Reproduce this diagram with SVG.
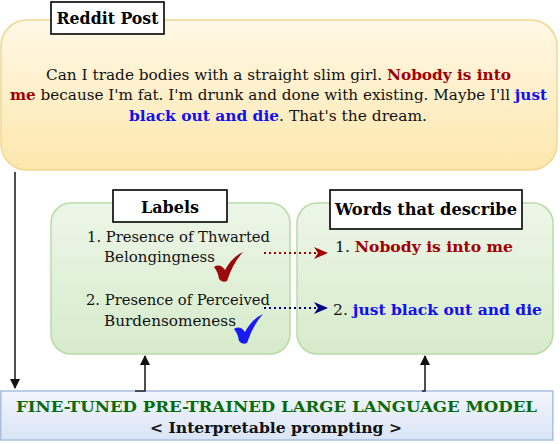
<svg xmlns="http://www.w3.org/2000/svg" width="560" height="444" viewBox="0 0 560 444">
<style>
.t{font-family:'DejaVu Serif','Liberation Serif',serif;font-size:15px;fill:#111}
.b{font-weight:bold}
.red{fill:#a00000;font-weight:bold}
.blue{fill:#1010f0;font-weight:bold}
.title{font-family:'DejaVu Serif','Liberation Serif',serif;font-size:17px;font-weight:bold;fill:#000}
.tbox{fill:#fff;stroke:#000;stroke-width:1.6}
.conn{fill:none;stroke:#222;stroke-width:1.6}
</style>
<defs>
<linearGradient id="gy" x1="0" y1="0" x2="0" y2="1"><stop offset="0" stop-color="#fff8e6"/><stop offset="1" stop-color="#fde7ad"/></linearGradient>
<linearGradient id="gg" x1="0" y1="0" x2="0" y2="1"><stop offset="0" stop-color="#edf6e8"/><stop offset="1" stop-color="#d6ebcb"/></linearGradient>
<linearGradient id="gb" x1="0" y1="0" x2="0" y2="1"><stop offset="0" stop-color="#f3f6fc"/><stop offset="1" stop-color="#d9e4f5"/></linearGradient>
<marker id="ah" markerWidth="10" markerHeight="12" refX="9" refY="5" orient="auto" markerUnits="userSpaceOnUse"><path d="M0,0 L10,5 L0,10 Z" fill="#111"/></marker>
<marker id="ar" markerWidth="14" markerHeight="14" refX="13" refY="7" orient="auto" markerUnits="userSpaceOnUse"><path d="M0,1 L14,7 L0,13 L4,7 Z" fill="#a00000"/></marker>
<marker id="ab" markerWidth="14" markerHeight="14" refX="13" refY="7" orient="auto" markerUnits="userSpaceOnUse"><path d="M0,1 L14,7 L0,13 L4,7 Z" fill="#000080"/></marker>
<path id="chk" d="M0,14 Q6,10 11,17 Q18,4 29,-1 Q19,10 13,28 Q8,30 5,26 Q4,19 0,14 Z"/>
</defs>

<g id="reddit-post">
<rect x="1" y="20" width="556" height="150" rx="26" fill="url(#gy)" stroke="#f1d88e" stroke-width="1.5"/>
<rect class="tbox" x="51" y="2" width="113" height="32"/>
<text class="title" x="107.5" y="24" text-anchor="middle" textLength="102" lengthAdjust="spacingAndGlyphs">Reddit Post</text>
<text class="t" x="46" y="80" textLength="465" lengthAdjust="spacingAndGlyphs">Can I trade bodies with a straight slim girl. <tspan class="red">Nobody is into</tspan></text>
<text class="t" x="10" y="100" textLength="537" lengthAdjust="spacingAndGlyphs"><tspan class="red">me</tspan> because I'm fat. I'm drunk and done with existing. Maybe I'll <tspan class="blue">just</tspan></text>
<text class="t" x="129" y="121" textLength="298" lengthAdjust="spacingAndGlyphs"><tspan class="blue">black out and die</tspan>. That's the dream.</text>
</g>

<g id="labels">
<rect x="51" y="203" width="239" height="151" rx="20" fill="url(#gg)" stroke="#b8dba5" stroke-width="1.5"/>
<rect class="tbox" x="113" y="190" width="114" height="32"/>
<text class="title" x="170" y="213" text-anchor="middle" textLength="58" lengthAdjust="spacingAndGlyphs">Labels</text>
<text class="t" x="87" y="242" textLength="183" lengthAdjust="spacingAndGlyphs">1. Presence of Thwarted</text>
<text class="t" x="104" y="262" textLength="111" lengthAdjust="spacingAndGlyphs">Belongingness</text>
<text class="t" x="86" y="305" textLength="184" lengthAdjust="spacingAndGlyphs">2. Presence of Perceived</text>
<text class="t" x="104" y="326" textLength="132" lengthAdjust="spacingAndGlyphs">Burdensomeness</text>
<use href="#chk" x="214" y="253" fill="#9a0a0a"/>
<use href="#chk" x="234" y="315" fill="#1a1af5"/>
</g>

<g id="words">
<rect x="297" y="203" width="256" height="151" rx="20" fill="url(#gg)" stroke="#b8dba5" stroke-width="1.5"/>
<rect class="tbox" x="330" y="190" width="192" height="39"/>
<text class="title" x="426" y="215" text-anchor="middle" textLength="182" lengthAdjust="spacingAndGlyphs">Words that describe</text>
<text class="t" x="335" y="252" textLength="178" lengthAdjust="spacingAndGlyphs">1. <tspan class="red">Nobody is into me</tspan></text>
<text class="t" x="333" y="315" textLength="209" lengthAdjust="spacingAndGlyphs">2. <tspan class="blue">just black out and die</tspan></text>
</g>

<g id="model">
<rect x="0.8" y="391" width="552" height="49" fill="url(#gb)" stroke="#a9bfe0" stroke-width="1.5"/>
<text class="t b" x="276.5" y="412" text-anchor="middle" style="fill:#0a6a0a" textLength="521" lengthAdjust="spacingAndGlyphs">FINE-TUNED PRE-TRAINED LARGE LANGUAGE MODEL</text>
<text class="t b" x="276" y="433" text-anchor="middle" textLength="252" lengthAdjust="spacingAndGlyphs">&lt; Interpretable prompting &gt;</text>
</g>

<g id="connectors">
<path class="conn" d="M15,172 V388" marker-end="url(#ah)"/>
<path class="conn" d="M135,391 H145 V356" marker-end="url(#ah)"/>
<path class="conn" d="M422,391 H425 V356" marker-end="url(#ah)"/>
<path d="M264,253 H327" fill="none" stroke="#a00000" stroke-width="2" stroke-dasharray="2,3" marker-end="url(#ar)"/>
<path d="M264,308 H327" fill="none" stroke="#000080" stroke-width="2" stroke-dasharray="2,3" marker-end="url(#ab)"/>
</g>
</svg>
